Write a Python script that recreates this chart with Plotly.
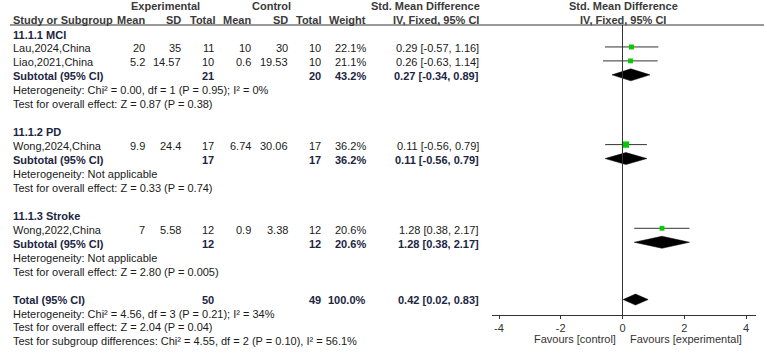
import plotly.graph_objects as go

# ---------------- data ----------------
studies = ["Lau,2024,China", "Liao,2021,China", "Wong,2024,China", "Wong,2022,China"]
exp_mean = [20, 5.2, 9.9, 7]
exp_sd = [35, 14.57, 24.4, 5.58]
exp_n = [11, 10, 17, 12]
ctl_mean = [10, 0.6, 6.74, 0.9]
ctl_sd = [30, 19.53, 30.06, 3.38]
ctl_n = [10, 10, 17, 12]
weight = [22.1, 21.1, 36.2, 20.6]
smd = [0.29, 0.26, 0.11, 1.28]
ci_lo = [-0.57, -0.63, -0.56, 0.38]
ci_hi = [1.16, 1.14, 0.79, 2.17]

group_names = ["11.1.1 MCI", "11.1.2 PD", "11.1.3 Stroke"]
group_members = [[0, 1], [2], [3]]
sub_exp_n = [21, 17, 12]
sub_ctl_n = [20, 17, 12]
sub_weight = [43.2, 36.2, 20.6]
sub_smd = [0.27, 0.11, 1.28]
sub_lo = [-0.34, -0.56, 0.38]
sub_hi = [0.89, 0.79, 2.17]
sub_het = ["Heterogeneity: Chi² = 0.00, df = 1 (P = 0.95); I² = 0%",
           "Heterogeneity: Not applicable",
           "Heterogeneity: Not applicable"]
sub_test = ["Test for overall effect: Z = 0.87 (P = 0.38)",
            "Test for overall effect: Z = 0.33 (P = 0.74)",
            "Test for overall effect: Z = 2.80 (P = 0.005)"]

total_exp_n = 50
total_ctl_n = 49
total_weight = 100.0
total_smd = 0.42
total_lo = 0.02
total_hi = 0.83
total_lines = ["Heterogeneity: Chi² = 4.56, df = 3 (P = 0.21); I² = 34%",
               "Test for overall effect: Z = 2.04 (P = 0.04)",
               "Test for subgroup differences: Chi² = 4.55, df = 2 (P = 0.10), I² = 56.1%"]

tick_vals = [-4, -2, 0, 2, 4]
tick_text = ["-4", "-2", "0", "2", "4"]

# ---------------- layout constants ----------------
W, H = 767, 354
FONT = "Liberation Sans, Arial, sans-serif"
FS = 11
TXT = "#1a1a1a"
BOLD = "#1c2541"
HDR = "#3a3a3a"
Y0, STEP = 34.5, 13.95
MARK_OFF = -1.5
AX_Y = 315
TOP_Y = 25
PX_L, PX_R = 492, 756
X_RANGE = [-4.227, 4.324]

col_right = {"em": 147, "esd": 183, "en": 216, "cm": 253, "csd": 290, "cn": 323, "w": 368, "ci": 481}

ann = []


def txt(x, y, s, anchor="left", bold=False, color=TXT):
    ann.append(dict(x=x, y=y, xref="x", yref="y", text=("<b>%s</b>" % s) if bold else s,
                    showarrow=False, xanchor=anchor, yanchor="middle",
                    font=dict(family=FONT, size=FS, color=color)))


def ci_str(e, l, h):
    return "%.2f [%.2f, %.2f]" % (e, l, h)


def row_y(k):
    return Y0 + STEP * k


# headers
txt(165, 6, "Experimental", "center", True, HDR)
txt(271, 6, "Control", "center", True, HDR)
txt(425, 6, "Std. Mean Difference", "center", True, HDR)
txt(623, 6, "Std. Mean Difference", "center", True, HDR)
txt(11, 20, "Study or Subgroup", "left", True, HDR)
for key, lab in [("em", "Mean"), ("esd", "SD"), ("en", "Total"), ("cm", "Mean"),
                 ("csd", "SD"), ("cn", "Total"), ("w", "Weight"), ("ci", "IV, Fixed, 95% CI")]:
    txt(col_right[key] + (1 if key == "en" else 0), 20, lab, "right", True, HDR)
txt(623, 20, "IV, Fixed, 95% CI", "center", True, HDR)

fig = go.Figure()

k = 0
for g, name in enumerate(group_names):
    txt(11, row_y(k), name, "left", True, BOLD)
    k += 1
    for i in group_members[g]:
        y = row_y(k)
        txt(11, y, studies[i])
        txt(col_right["em"], y, str(exp_mean[i]), "right")
        txt(col_right["esd"], y, str(exp_sd[i]), "right")
        txt(col_right["en"], y, str(exp_n[i]), "right")
        txt(col_right["cm"], y, str(ctl_mean[i]), "right")
        txt(col_right["csd"], y, str(ctl_sd[i]), "right")
        txt(col_right["cn"], y, str(ctl_n[i]), "right")
        txt(col_right["w"], y, "%.1f%%" % weight[i], "right")
        txt(col_right["ci"], y, ci_str(smd[i], ci_lo[i], ci_hi[i]), "right")
        ym = y + MARK_OFF
        fig.add_trace(go.Scatter(x=[ci_lo[i], ci_hi[i]], y=[ym, ym], mode="lines",
                                 line=dict(color="#333333", width=1), xaxis="x2", yaxis="y2",
                                 hoverinfo="skip", showlegend=False))
        fig.add_trace(go.Scatter(x=[smd[i]], y=[ym], mode="markers",
                                 marker=dict(symbol="square", color="#00cc00",
                                             size=weight[i] ** 0.5 * 1.05, line=dict(width=0)),
                                 xaxis="x2", yaxis="y2", showlegend=False))
        k += 1
    y = row_y(k)
    txt(11, y, "Subtotal (95% CI)", "left", True, BOLD)
    txt(col_right["en"], y, str(sub_exp_n[g]), "right", True, BOLD)
    txt(col_right["cn"], y, str(sub_ctl_n[g]), "right", True, BOLD)
    txt(col_right["w"], y, "%.1f%%" % sub_weight[g], "right", True, BOLD)
    txt(col_right["ci"], y, ci_str(sub_smd[g], sub_lo[g], sub_hi[g]), "right", True, BOLD)
    ym = y + MARK_OFF
    fig.add_trace(go.Scatter(x=[sub_lo[g], sub_smd[g], sub_hi[g], sub_smd[g], sub_lo[g]],
                             y=[ym, ym - 6, ym, ym + 6, ym], mode="lines", fill="toself",
                             fillcolor="black", line=dict(color="black", width=0.5),
                             xaxis="x2", yaxis="y2", hoverinfo="skip", showlegend=False))
    k += 1
    txt(11, row_y(k), sub_het[g])
    k += 1
    txt(11, row_y(k), sub_test[g])
    k += 2

# total
y = row_y(k)
txt(11, y, "Total (95% CI)", "left", True, BOLD)
txt(col_right["en"], y, str(total_exp_n), "right", True, BOLD)
txt(col_right["cn"], y, str(total_ctl_n), "right", True, BOLD)
txt(col_right["w"], y, "%.1f%%" % total_weight, "right", True, BOLD)
txt(col_right["ci"], y, ci_str(total_smd, total_lo, total_hi), "right", True, BOLD)
ym = y
fig.add_trace(go.Scatter(x=[total_lo, total_smd, total_hi, total_smd, total_lo],
                         y=[ym, ym - 5.5, ym, ym + 5.5, ym], mode="lines", fill="toself",
                         fillcolor="black", line=dict(color="black", width=0.5),
                         xaxis="x2", yaxis="y2", hoverinfo="skip", showlegend=False))
k += 1
for line in total_lines:
    txt(11, row_y(k), line)
    k += 1

# favours labels
txt(618, 339, "Favours [control]", "right", False, "#333333")
txt(628, 339, "Favours [experimental]", "left", False, "#333333")

shapes = [
    dict(type="line", xref="x", yref="y", x0=10, x1=764, y0=TOP_Y, y1=TOP_Y,
         line=dict(color="#777777", width=1.5)),
    dict(type="line", xref="x2", yref="y2", x0=0, x1=0, y0=TOP_Y, y1=AX_Y,
         line=dict(color="#333333", width=1)),
]

fig.update_layout(
    width=W, height=H, margin=dict(l=0, r=0, t=0, b=0),
    paper_bgcolor="white", plot_bgcolor="rgba(0,0,0,0)",
    showlegend=False, annotations=ann, shapes=shapes,
    xaxis=dict(range=[0, W], domain=[0, 1], visible=False, fixedrange=True),
    yaxis=dict(range=[H, 0], domain=[0, 1], visible=False, fixedrange=True),
    xaxis2=dict(range=X_RANGE, domain=[PX_L / W, PX_R / W], anchor="y2",
                showline=True, linecolor="#333333", linewidth=1, showgrid=False, zeroline=False,
                ticks="outside", ticklen=3, tickcolor="#333333", tickvals=tick_vals,
                ticktext=tick_text, tickfont=dict(family=FONT, size=FS, color="#333333")),
    yaxis2=dict(range=[AX_Y, TOP_Y], domain=[(H - AX_Y) / H, (H - TOP_Y) / H], anchor="x2",
                visible=False, showgrid=False, zeroline=False),
)

fig.write_html("out.html")
